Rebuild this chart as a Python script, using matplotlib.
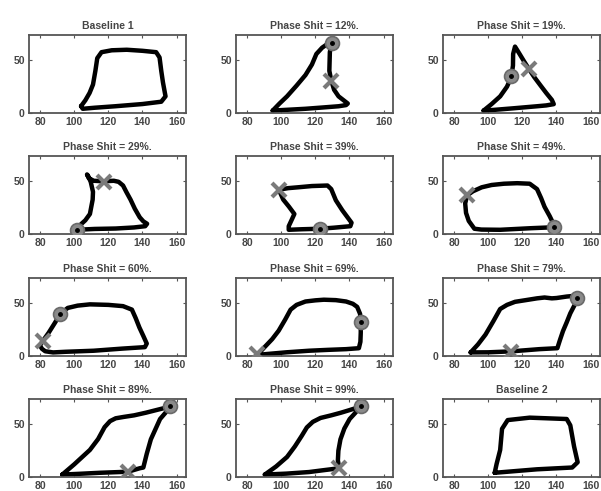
import matplotlib
matplotlib.use("Agg")
import matplotlib.pyplot as plt

plt.rcParams['font.family'] = ['Liberation Sans', 'DejaVu Sans']

titles = ["Baseline 1", "Phase Shit = 12%.", "Phase Shit = 19%.",
          "Phase Shit = 29%.", "Phase Shit = 39%.", "Phase Shit = 49%.",
          "Phase Shit = 60%.", "Phase Shit = 69%.", "Phase Shit = 79%.",
          "Phase Shit = 89%.", "Phase Shit = 99%.", "Baseline 2"]

x_ticks = [80, 100, 120, 140, 160]
y_ticks = [0, 50]

base1_x = [104, 106.5, 109, 111, 112.4, 113.5, 116, 122, 130.8, 140, 148, 150, 151, 152, 153.5, 151, 140, 124, 112, 105, 104]
base1_y = [6.5, 12, 19, 27, 40, 52, 57.7, 59.5, 60, 59, 57.7, 52.7, 40, 29, 15.8, 10.7, 8.5, 6.4, 5, 4, 6.5]

ps12_x = [95, 99, 103.4, 109, 114.2, 118, 120.6, 124, 127.1, 129.5, 129, 128.5, 128.2, 129.3, 131, 133.6, 139, 138, 133.6, 124, 114.2, 103, 95]
ps12_y = [2.3, 9, 15.8, 26, 36, 46, 56, 62, 65.5, 66.5, 62, 57.7, 40, 30.9, 22, 15.8, 9, 7.5, 6.4, 5.2, 4, 3, 2.3]

ps19_x = [97.3, 102, 107, 111, 113.5, 114.5, 114.6, 115.7, 118, 121, 123.9, 127, 130.8, 134, 137.3, 138.4, 134, 128.6, 115, 98.4, 97.3]
ps19_y = [2.3, 8.5, 15.8, 25, 34, 45, 56, 63, 57, 49, 41.6, 34, 25.8, 19, 12.4, 8.4, 7.2, 6.4, 4.5, 2.3, 2.3]

ps29_x = [101.6, 112, 124.3, 135, 141.6, 142.7, 140.5, 138.4, 135.5, 133, 130.5, 128.6, 126, 123.2, 117.4, 111.4, 108.5, 107.5, 108.5, 109.7, 111, 110.8, 109.2, 106.5, 103.8, 101.6]
ps29_y = [4, 4.8, 5.2, 6.2, 7.4, 9.7, 12, 15.8, 24, 32.6, 40, 46, 49.5, 50.5, 50, 50.5, 53, 56.5, 54, 49.3, 40, 32.6, 19, 13, 9, 4]

ps39_x = [98.6, 104, 109.8, 118, 127.1, 129.3, 132, 135.8, 139, 141.2, 140.5, 131, 122.8, 112, 104.4, 104.4, 106, 107.7, 104.5, 101.2, 98.6]
ps39_y = [42, 43.5, 44.3, 45.5, 46, 42.6, 32, 22.5, 15.5, 10.7, 7.4, 6, 5, 4.5, 4, 7.4, 13, 19, 26, 32.6, 42]

ps49_x = [87.6, 91, 96.2, 102, 109.2, 117, 124.3, 128.6, 131, 133, 136, 138.4, 138.4, 125, 107, 96, 91.9, 88.6, 87, 86.5, 87.6]
ps49_y = [36.6, 40.5, 44.3, 46.5, 47.7, 48.2, 47.7, 42.6, 34, 25.8, 17, 9, 6.4, 5.5, 4, 4.2, 5, 12.4, 20, 29, 36.6]

ps60_x = [81.7, 85, 88.5, 91.9, 96.2, 102, 109.2, 120, 128.6, 133.8, 136, 138.2, 140.5, 142.5, 141.4, 128, 111.4, 95, 87.6, 83, 81.1, 79.9, 81.7]
ps60_y = [14.5, 22, 31, 40, 45.6, 47.8, 49, 48.5, 47.3, 44, 36, 27, 19, 11.8, 8.4, 7, 5, 4, 3.4, 4.5, 6.8, 10, 14.5]

ps69_x = [86, 90, 94.7, 98.5, 102.3, 105.5, 109, 114.2, 120, 125, 132, 138, 142, 144.5, 146.2, 146.6, 146.6, 146.4, 145.5, 138, 127, 116.3, 103, 90.4, 86]
ps69_y = [1, 8, 16, 24, 34.5, 44, 48.5, 51.7, 52.8, 53.4, 53, 51.7, 49.5, 46.6, 40, 32, 22, 13.5, 7.4, 6.5, 5.8, 5, 3.5, 1.7, 1]

ps79_x = [89.7, 94, 98.4, 103, 107, 111, 115.7, 122, 128.6, 133, 137.3, 140, 146, 150, 152, 150.5, 148.1, 146, 143.8, 142, 140.5, 130, 113.5, 100, 89.7]
ps79_y = [3.4, 11, 20.3, 33, 44.6, 48.5, 51.4, 53, 54.7, 55.5, 54.7, 55, 56.4, 57, 55, 48, 40.5, 32, 23.6, 15, 7.4, 6.5, 4.4, 3.5, 3.4]

ps89_x = [93, 100, 109.2, 114, 117.8, 121, 124.3, 129, 135.1, 142, 148.1, 153, 156.3, 153.5, 150.3, 147.5, 144.9, 142.5, 140.5, 138.4, 131.5, 115, 102.7, 93]
ps89_y = [2.3, 12, 25.7, 36, 47.3, 53, 55.7, 57, 58.5, 61, 63.5, 65.5, 67, 61, 55, 45, 35.7, 22, 9, 8.3, 5, 4, 3, 2.3]

ps99_x = [90.4, 97, 103.4, 108, 112, 115, 118.5, 123, 129.3, 135, 140.1, 144, 146.6, 143.5, 140.1, 137, 134.7, 133.5, 133.2, 134, 125, 116.3, 103, 90.4]
ps99_y = [2.3, 10, 19, 29, 39, 47, 52.3, 56, 58.5, 61, 63.5, 65.5, 67, 61, 55, 46, 35.7, 25, 15.7, 8.3, 6.5, 4.7, 3.2, 2.3]

base2_x = [103.8, 104.9, 107, 108.1, 111.4, 124.3, 146, 148.1, 150.3, 152.4, 149.2, 128.6, 103.8]
base2_y = [4, 12.3, 25.7, 45.7, 54, 56.3, 55, 49, 29, 14, 9, 7.3, 4]

# marker positions (circle, cross) per panel; None when absent
circle_x = [None, 129.5, 113.5, 101.6, 122.8, 138.4, 91.9, 146.6, 152, 156.3, 146.6, None]
circle_y = [None, 66.5, 35.5, 4, 5, 6.4, 40, 32, 55, 67, 67, None]
cross_x = [None, 129.3, 123.9, 117.4, 98.6, 87.6, 81.7, 86, 113.1, 131.5, 134, None]
cross_y = [None, 30.5, 41.6, 49.5, 42, 36.6, 14.5, 1.5, 4, 5, 8.3, None]

loops_x = [base1_x, ps12_x, ps19_x, ps29_x, ps39_x, ps49_x, ps60_x, ps69_x, ps79_x, ps89_x, ps99_x, base2_x]
loops_y = [base1_y, ps12_y, ps19_y, ps29_y, ps39_y, ps49_y, ps60_y, ps69_y, ps79_y, ps89_y, ps99_y, base2_y]

W, H = 601, 491
fig = plt.figure(figsize=(W / 100, H / 100), dpi=100)
fig.patch.set_facecolor('white')

col_left = [29, 236, 443]
row_top = [35, 156, 278, 399]
ax_w, ax_h = 157, 78
txt = '#454545'
gray = '#7a7a7a'

for i in range(12):
    r, c = divmod(i, 3)
    ax = fig.add_axes([col_left[c] / W, (H - row_top[r] - ax_h) / H, ax_w / W, ax_h / H])
    ax.plot(loops_x[i], loops_y[i], color='black', lw=3.2, solid_joinstyle='round',
            solid_capstyle='round', zorder=2)
    if circle_x[i] is not None:
        ax.plot([circle_x[i]], [circle_y[i]], 'o', ms=10, mfc='#8a8a8a', mec='#6a6a6a', mew=1.2, zorder=3)
        ax.plot([circle_x[i]], [circle_y[i]], 'o', ms=2.5, color='black', zorder=4)
    if cross_x[i] is not None:
        ax.plot([cross_x[i]], [cross_y[i]], 'x', ms=10, mew=3, color=gray, zorder=3)
    ax.set_xlim(73.5, 165.5)
    ax.set_ylim(0, 74)
    ax.set_xticks(x_ticks)
    ax.set_yticks(y_ticks)
    ax.tick_params(direction='in', length=2.5, width=0.8, color='#555555', top=True, right=True,
                   labelsize=7.5, labelcolor=txt, pad=3)
    for lab in ax.get_xticklabels() + ax.get_yticklabels():
        lab.set_fontweight('bold')
    for sp in ax.spines.values():
        sp.set_color('#555555')
        sp.set_linewidth(1.3)
    ax.set_title(titles[i], fontsize=7.5, fontweight='bold', color=txt, pad=4)

fig.savefig('out.png', dpi=100, facecolor='white')
